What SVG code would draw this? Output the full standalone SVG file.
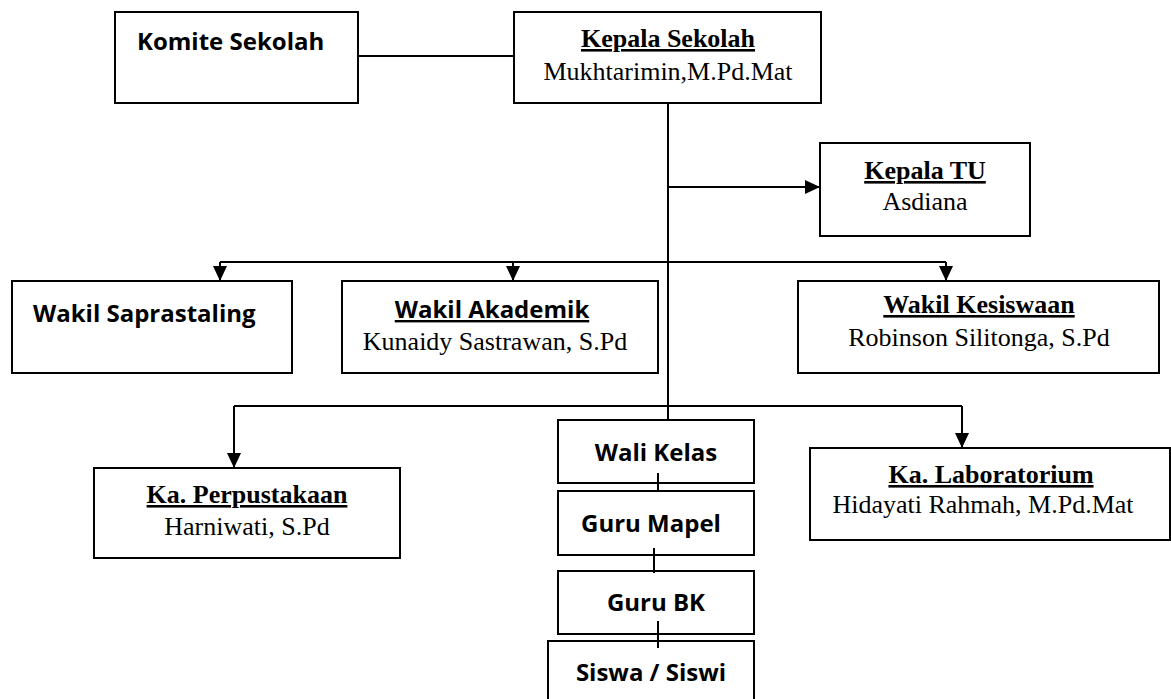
<svg xmlns="http://www.w3.org/2000/svg" width="1171" height="699" viewBox="0 0 1171 699">
<style>
.box{fill:#fff;stroke:#000;stroke-width:2}
.ln{fill:none;stroke:#000;stroke-width:2}
.sb{font-family:"Open Sans","Liberation Sans",sans-serif;font-weight:bold;font-size:24px;fill:#000}
.st{font-family:"Liberation Serif","Times New Roman",serif;font-weight:bold;font-size:26px;fill:#000;text-decoration:underline}
.sr{font-family:"Liberation Serif","Times New Roman",serif;font-size:26px;fill:#000}
</style>
<defs>
<marker id="ah" markerUnits="userSpaceOnUse" markerWidth="15" markerHeight="14" refX="15" refY="7" orient="auto">
<path d="M0,0 L15,7 L0,14 z" fill="#000"/>
</marker>
</defs>
<rect width="1171" height="699" fill="#fff"/>
<g id="connectors">
<path class="ln" d="M358,56 H514"/>
<path class="ln" d="M668,103 V420"/>
<path class="ln" d="M668,187 H820" marker-end="url(#ah)"/>
<path class="ln" d="M220,262 H946"/>
<path class="ln" d="M220,262 V281" marker-end="url(#ah)"/>
<path class="ln" d="M513,262 V281" marker-end="url(#ah)"/>
<path class="ln" d="M946,262 V281" marker-end="url(#ah)"/>
<path class="ln" d="M234,406 H962"/>
<path class="ln" d="M234,406 V468" marker-end="url(#ah)"/>
<path class="ln" d="M962,406 V448" marker-end="url(#ah)"/>
</g>
<g id="komite"><rect class="box" x="115" y="12" width="243" height="91"/><text class="sb" x="137" y="50">Komite Sekolah</text></g>
<g id="kepala-sekolah"><rect class="box" x="514" y="12" width="307" height="91"/><text class="st" x="668" y="47" text-anchor="middle">Kepala Sekolah</text><text class="sr" x="668" y="80" text-anchor="middle">Mukhtarimin,M.Pd.Mat</text></g>
<g id="kepala-tu"><rect class="box" x="820" y="143" width="210" height="93"/><text class="st" x="925" y="179" text-anchor="middle">Kepala TU</text><text class="sr" x="925" y="210" text-anchor="middle">Asdiana</text></g>
<g id="wakil-saprastaling"><rect class="box" x="12" y="281" width="280" height="92"/><text class="sb" x="33" y="322">Wakil Saprastaling</text></g>
<g id="wakil-akademik"><rect class="box" x="342" y="281" width="316" height="92"/><text class="sb" x="492" y="318" text-anchor="middle" text-decoration="underline">Wakil Akademik</text><text class="sr" x="495" y="350" text-anchor="middle">Kunaidy Sastrawan, S.Pd</text></g>
<g id="wakil-kesiswaan"><rect class="box" x="798" y="281" width="361" height="92"/><text class="st" x="979" y="313" text-anchor="middle">Wakil Kesiswaan</text><text class="sr" x="979" y="346" text-anchor="middle">Robinson Silitonga, S.Pd</text></g>
<g id="ka-perpustakaan"><rect class="box" x="94" y="468" width="306" height="90"/><text class="st" x="247" y="503" text-anchor="middle">Ka. Perpustakaan</text><text class="sr" x="247" y="535" text-anchor="middle">Harniwati, S.Pd</text></g>
<g id="ka-laboratorium"><rect class="box" x="810" y="448" width="360" height="92"/><text class="st" x="991" y="483" text-anchor="middle">Ka. Laboratorium</text><text class="sr" x="983" y="513" text-anchor="middle">Hidayati Rahmah, M.Pd.Mat</text></g>
<g id="wali-kelas"><rect class="box" x="558" y="420" width="196" height="63"/><text class="sb" x="656" y="461" text-anchor="middle">Wali Kelas</text></g>
<g id="guru-mapel"><rect class="box" x="558" y="491" width="196" height="64"/><text class="sb" x="651" y="532" text-anchor="middle">Guru Mapel</text></g>
<g id="guru-bk"><rect class="box" x="558" y="571" width="196" height="63"/><text class="sb" x="656" y="611" text-anchor="middle">Guru BK</text></g>
<g id="siswa"><rect class="box" x="548" y="641" width="206" height="70"/><text class="sb" x="651" y="681" text-anchor="middle">Siswa / Siswi</text></g>
<g id="inner-connectors">
<path class="ln" d="M658,473 V491"/>
<path class="ln" d="M654,548 V573"/>
<path class="ln" d="M658,621 V648"/>
</g>
</svg>
